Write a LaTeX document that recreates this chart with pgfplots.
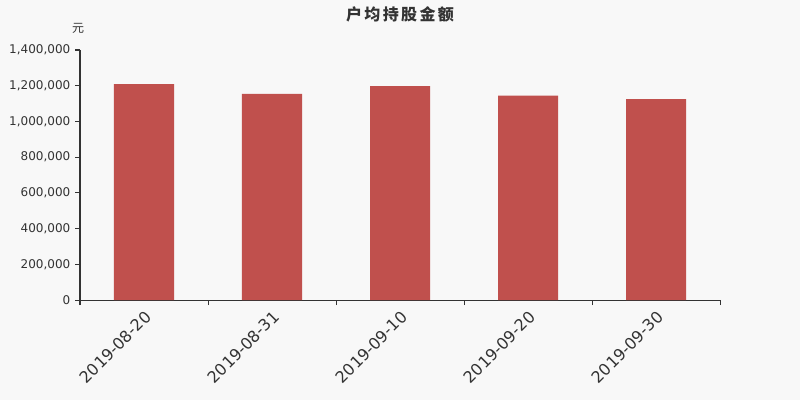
\documentclass[border=0pt]{standalone}
\usepackage{fontspec}
\setmainfont{DejaVu Sans}
\newfontfamily\cjk{Noto Sans CJK SC}
\newfontfamily\cjkt{Noto Sans CJK SC}[LetterSpace=15]
\usepackage{pgfplots}
\pgfplotsset{compat=1.18}
\definecolor{bg}{HTML}{F8F8F8}
\definecolor{barc}{HTML}{C0504D}
\definecolor{txt}{HTML}{333333}
\begin{document}
\begin{tikzpicture}[x=1pt,y=1pt]
\fill[bg] (0,0) rectangle (600,300);
\useasboundingbox (0,0) rectangle (600,300);
\begin{axis}[
  at={(60pt,75pt)}, anchor=south west, scale only axis,
  width=480pt, height=187.5pt,
  xmin=-0.5, xmax=4.5, ymin=0, ymax=1400000,
  axis x line*=bottom, axis y line*=left,
  axis line style={txt, line width=0.75pt},
  xtick={0,...,4},
  xticklabels={2019-08-20,2019-08-31,2019-09-10,2019-09-20,2019-09-30},
  major x tick style={draw=none},
  minor xtick={-0.5,0.5,1.5,2.5,3.5,4.5},
  minor x tick style={txt, line width=0.75pt},
  ytick={0,200000,...,1400000},
  y tick style={txt, line width=0.75pt},
  tick align=outside,
  major tick length=3.75pt, minor tick length=3.75pt,
  scaled y ticks=false,
  /pgf/number format/fixed,
  /pgf/number format/precision=0,
  /pgf/number format/1000 sep={,},
  /pgf/number format/assume math mode=true,
  yticklabel style={font=\fontsize{9}{9}\selectfont, text=txt},
  xticklabel style={font=\fontsize{12}{12}\selectfont, text=txt, rotate=45, anchor=north east, inner sep=1pt, yshift=-1.5pt, xshift=-1.5pt},
  ybar, bar width=45pt,
]
\addplot[fill=barc, draw=none] coordinates {
  (0,1209000) (1,1154000) (2,1198000) (3,1144000) (4,1125000)
};
\end{axis}
\node[text=txt, font=\cjk\fontsize{9}{9}\selectfont] at (58.5,279) {元};
\node[text=txt, font=\cjkt\bfseries\fontsize{12}{12}\selectfont] at (300,289.5) {户均持股金额};
\end{tikzpicture}
\end{document}
